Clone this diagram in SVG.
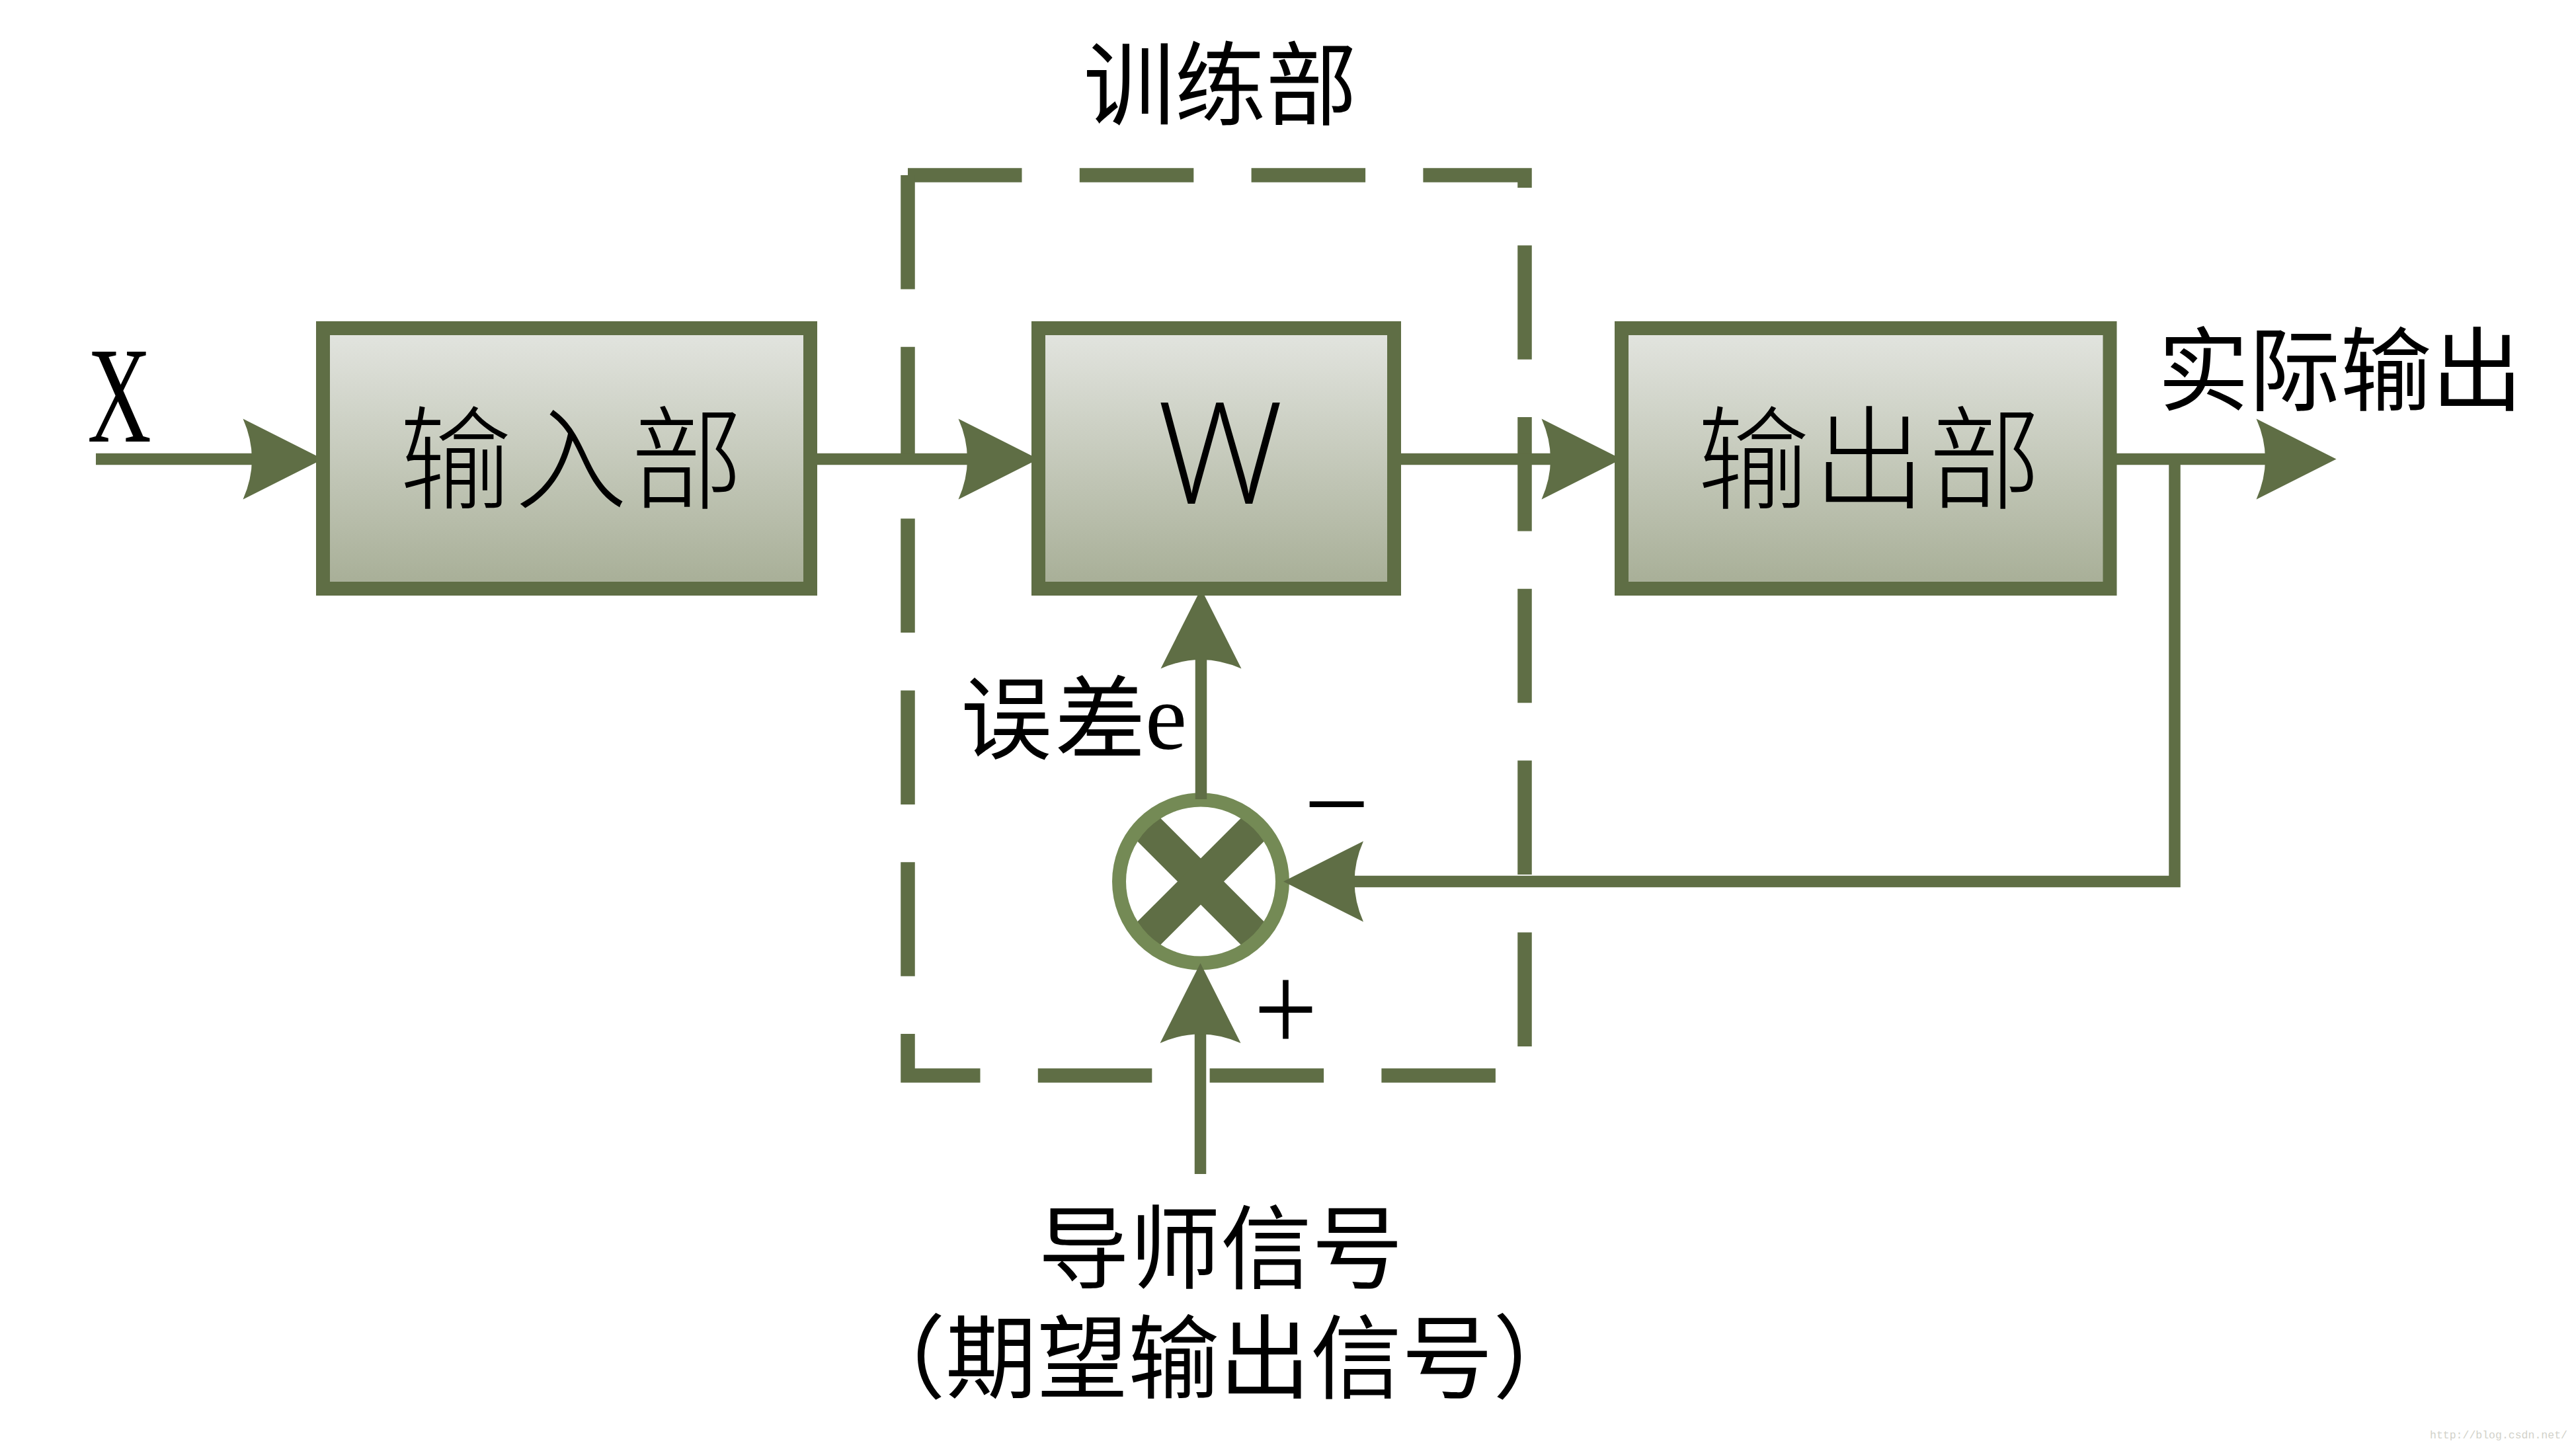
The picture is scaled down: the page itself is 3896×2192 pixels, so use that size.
<svg xmlns="http://www.w3.org/2000/svg" xmlns:xlink="http://www.w3.org/1999/xlink" width="3896" height="2192" viewBox="0 0 3896 2192">
  <style>
    .box { stroke: #5f6e45; stroke-width: 21; }
    .wire { fill: none; stroke: #5f6e45; stroke-width: 17.5; stroke-linejoin: miter; }
    .dash { fill: none; stroke: #5f6e45; stroke-width: 21.5; stroke-dasharray: 172.5 87.3; stroke-linejoin: miter; }
    .cjk { font-family: "Noto Sans CJK SC", "Noto Sans", sans-serif; fill: #000; }
    .inbox { font-weight: 300; }
    .serif { font-family: "Liberation Serif", serif; fill: #000; }
  </style>
  <defs>
    <linearGradient id="boxFill" x1="0" y1="0" x2="0" y2="1">
      <stop offset="0" stop-color="#e3e5e0"/>
      <stop offset="1" stop-color="#a7ae96"/>
    </linearGradient>
    <path id="ah" d="M0,0 L-121,-61 Q-94,0 -121,61 Z" fill="#5f6e45"/>
  </defs>
  <rect width="3896" height="2192" fill="#ffffff"/>

  <!-- training part (dashed frame) -->
  <g id="training">
    <path class="dash" d="M1373,265 H2306 V1627"/>
    <path class="dash" d="M1373,265 V1627 H2306"/>
    <text class="cjk" x="1845.5" y="178" font-size="138" text-anchor="middle">训练部</text>
  </g>

  <!-- summing junction -->
  <g id="junction">
    <circle cx="1816" cy="1333.5" r="123.5" fill="#ffffff"/>
    <line x1="1729.7" y1="1247.2" x2="1902.3" y2="1419.8" stroke="#5f6e45" stroke-width="49.5"/>
    <line x1="1902.3" y1="1247.2" x2="1729.7" y2="1419.8" stroke="#5f6e45" stroke-width="49.5"/>
    <circle cx="1816" cy="1333.5" r="123.5" fill="none" stroke="#748a55" stroke-width="21"/>
    <text class="serif" x="2021.5" y="1275" font-size="176" text-anchor="middle">−</text>
    <text class="serif" transform="translate(1944.5,1591) scale(0.9,1)" font-size="190" text-anchor="middle">+</text>
  </g>

  <!-- connectors -->
  <g id="connectors">
    <path class="wire" d="M145,694.5 H390"/>
    <use xlink:href="#ah" href="#ah" transform="translate(488.5,694.5)"/>
    <path class="wire" d="M1236,694.5 H1470"/>
    <use xlink:href="#ah" href="#ah" transform="translate(1570.5,694.5)"/>
    <path class="wire" d="M2119,694.5 H2352"/>
    <use xlink:href="#ah" href="#ah" transform="translate(2452.5,694.5)"/>
    <path class="wire" d="M3201,694.5 H3440"/>
    <use xlink:href="#ah" href="#ah" transform="translate(3533.5,694.5)"/>
    <path class="wire" d="M3289,694.5 V1333.5 H2040"/>
    <use xlink:href="#ah" href="#ah" transform="translate(1941,1333.5) rotate(180)"/>
    <path class="wire" d="M1816.5,1209 V990"/>
    <use xlink:href="#ah" href="#ah" transform="translate(1816.5,890.5) rotate(-90)"/>
    <path class="wire" d="M1815.5,1776 V1560"/>
    <use xlink:href="#ah" href="#ah" transform="translate(1815.5,1457) rotate(-90)"/>
  </g>

  <!-- input -->
  <g id="input-x">
    <text class="serif" transform="translate(180.5,668) scale(0.646,1)" font-size="207" text-anchor="middle">X</text>
  </g>

  <g id="input-block">
    <rect class="box" x="488.5" y="496.5" width="737" height="394" fill="url(#boxFill)"/>
    <text class="cjk inbox" x="866.5" y="757" font-size="170" letter-spacing="5" text-anchor="middle">输入部</text>
  </g>

  <g id="weight-block">
    <rect class="box" x="1570.5" y="496.5" width="538" height="394" fill="url(#boxFill)"/>
    <text x="1845.5" y="762" font-family="'Open Sans', Lato, 'Liberation Sans', sans-serif" font-weight="300" font-size="214" text-anchor="middle" fill="#000">W</text>
  </g>

  <g id="output-block">
    <rect class="box" x="2452.5" y="496.5" width="738.5" height="394" fill="url(#boxFill)"/>
    <text class="cjk inbox" x="2829.5" y="757" font-size="170" letter-spacing="5" text-anchor="middle">输出部</text>
  </g>

  <g id="actual-output">
    <text class="cjk" x="3539.5" y="610" font-size="138" text-anchor="middle">实际输出</text>
  </g>

  <g id="error-label">
    <text class="cjk" x="1595" y="1137" font-size="138" letter-spacing="4" text-anchor="middle">误差</text>
    <text class="serif" x="1732" y="1133" font-size="142">e</text>
  </g>

  <g id="teacher-signal">
    <text class="cjk" font-size="138" text-anchor="middle"><tspan x="1846" y="1938">导师信号</tspan><tspan x="1844" y="2104">（期望输出信号）</tspan></text>
  </g>

  <text x="3675" y="2176" font-family="Liberation Mono, monospace" font-size="16.5" fill="#d2d2ca">http://blog.csdn.net/</text>
</svg>
